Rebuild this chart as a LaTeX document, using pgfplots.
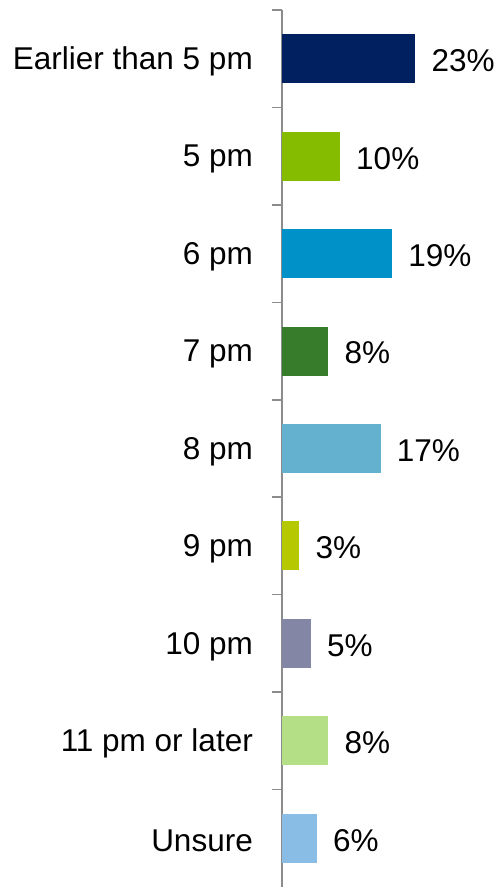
\documentclass[border=0pt]{standalone}
\usepackage{pgfplots}
\pgfplotsset{compat=1.18}
\usepackage{fontspec}
\setmainfont{Liberation Sans}

\definecolor{cEarly}{RGB}{0,32,96}
\definecolor{cFive}{RGB}{134,188,0}
\definecolor{cSix}{RGB}{0,145,200}
\definecolor{cSeven}{RGB}{54,124,43}
\definecolor{cEight}{RGB}{100,176,207}
\definecolor{cNine}{RGB}{181,200,0}
\definecolor{cTen}{RGB}{131,134,164}
\definecolor{cEleven}{RGB}{180,223,135}
\definecolor{cUnsure}{RGB}{138,189,230}
\definecolor{axisgray}{RGB}{140,140,140}

\newcommand{\chartfont}{\fontsize{31.5bp}{36bp}\selectfont}

\begin{document}
\begin{tikzpicture}[x=1bp,y=1bp]
\path[use as bounding box] (0,0) rectangle (499,887);
\begin{axis}[
  at={(282bp,0bp)}, anchor=south west,
  scale only axis,
  width=217bp, height=877bp,
  xmin=0, xmax=37.4,
  ymin=-0.5, ymax=8.5,
  y dir=reverse,
  xbar, bar width=49bp, bar shift=0pt,
  axis x line=none,
  axis y line*=left,
  y axis line style={axisgray, line width=1.5bp},
  ytick={0,...,8},
  yticklabels={Earlier than 5 pm,5 pm,6 pm,7 pm,8 pm,9 pm,10 pm,11 pm or later,Unsure},
  major tick length=0pt,
  minor ytick={-0.5,0.5,...,7.5},
  minor tick length=10bp,
  tick align=outside,
  minor y tick style={axisgray, line width=1.5bp},
  yticklabel style={font=\chartfont, anchor=east, inner sep=0pt, xshift=-29bp, yshift=-3bp},
  /pgf/number format/assume math mode=true,
  nodes near coords={\pgfmathprintnumber{\pgfplotspointmeta}\%},
  every node near coord/.append style={font=\chartfont, anchor=west, inner sep=0pt, xshift=16bp, yshift=-2bp},
  clip=false,
]
\addplot[fill=cEarly, draw=none] coordinates {(23,0)};
\addplot[fill=cFive, draw=none] coordinates {(10,1)};
\addplot[fill=cSix, draw=none] coordinates {(19,2)};
\addplot[fill=cSeven, draw=none] coordinates {(8,3)};
\addplot[fill=cEight, draw=none] coordinates {(17,4)};
\addplot[fill=cNine, draw=none] coordinates {(3,5)};
\addplot[fill=cTen, draw=none] coordinates {(5,6)};
\addplot[fill=cEleven, draw=none] coordinates {(8,7)};
\addplot[fill=cUnsure, draw=none] coordinates {(6,8)};
\end{axis}
\end{tikzpicture}
\end{document}
